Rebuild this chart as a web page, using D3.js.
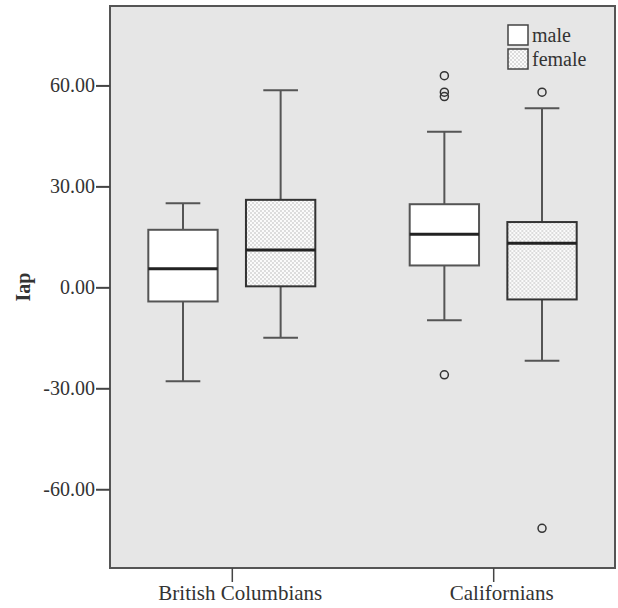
<!DOCTYPE html>
<html>
<head>
<meta charset="utf-8">
<script src="https://cdn.jsdelivr.net/npm/d3@7"></script>
<style>
	body { margin: 0; background: #fff; }
	text { font-family: "Liberation Serif", "Times New Roman", serif; fill: #333; }
</style>
</head>
<body>
<div class="graphic__vis"></div>
<script>
// groups on the x axis and the two series
var groups = ["British Columbians", "Californians"]
var sexes = ["male", "female"]

// box stats, one entry per group (order follows groups)
var maleLow    = [-27.9, -9.8]
var maleQ1     = [-4.2, 6.5]
var maleMedian = [5.5, 15.8]
var maleQ3     = [17.1, 24.7]
var maleHigh   = [25.0, 46.2]

var femaleLow    = [-15.0, -21.8]
var femaleQ1     = [0.3, -3.6]
var femaleMedian = [11.1, 13.1]
var femaleQ3     = [26.0, 19.4]
var femaleHigh   = [58.6, 53.2]

// outliers: [group, sex, value]
var outliers = [
	["Californians", "male", 62.9],
	["Californians", "male", 58.0],
	["Californians", "male", 56.7],
	["Californians", "male", -26.0],
	["Californians", "female", 58.0],
	["Californians", "female", -71.6]
]

var yTicks = [-60, -30, 0, 30, 60]

var width = 618
var height = 608

var svg = d3.select('.graphic__vis').append('svg')
	.attr('width', width)
	.attr('height', height)

var defs = svg.append('defs')
var pat = defs.append('pattern')
	.attr('id', 'dots')
	.attr('patternUnits', 'userSpaceOnUse')
	.attr('width', 4)
	.attr('height', 4)
pat.append('rect').attr('width', 4).attr('height', 4).attr('fill', '#fbfbfb')
pat.append('rect').attr('x', 0.5).attr('y', 0.5).attr('width', 1).attr('height', 1).attr('fill', '#808080')
pat.append('rect').attr('x', 2.5).attr('y', 2.5).attr('width', 1).attr('height', 1).attr('fill', '#808080')

var plot = { left: 110, right: 615, top: 6, bottom: 568 }

var x = d3.scalePoint()
	.domain(groups)
	.range([plot.left, plot.right])
	.padding(0.466)

var xSub = d3.scaleBand()
	.domain(sexes)
	.range([-83.5, 83.5])
	.paddingInner(0.29)

var y = d3.scaleLinear()
	.domain([-83.4, 83.6])
	.range([plot.bottom, plot.top])

// plot background
svg.append('rect')
	.attr('x', plot.left)
	.attr('y', plot.top)
	.attr('width', plot.right - plot.left)
	.attr('height', plot.bottom - plot.top)
	.attr('fill', '#e6e6e6')
	.attr('stroke', '#555')
	.attr('stroke-width', 2)

// axes
var fmt = d3.format('.2f')
var yAxis = d3.axisLeft(y)
	.tickValues(yTicks)
	.tickFormat(function(d) { return fmt(d).replace('\u2212', '-') })
	.tickSize(14)
	.tickPadding(1)

var gy = svg.append('g')
	.attr('transform', 'translate(' + plot.left + ',0)')
	.call(yAxis)
gy.select('.domain').remove()
gy.selectAll('.tick line').attr('stroke', '#444').attr('stroke-width', 2)
gy.selectAll('.tick text').style('font-size', '20px').attr('fill', '#333')

var xAxis = d3.axisBottom(x)
	.tickSize(14)
	.tickPadding(1)

var gx = svg.append('g')
	.attr('transform', 'translate(0,' + plot.bottom + ')')
	.call(xAxis)
gx.select('.domain').remove()
gx.selectAll('.tick line').attr('stroke', '#444').attr('stroke-width', 1.5)
gx.selectAll('.tick text')
	.style('font-size', '21px')
	.attr('fill', '#333')
	.attr('dx', 8)
	.attr('y', 17)

svg.append('text')
	.attr('transform', 'translate(30,' + ((plot.top + plot.bottom) / 2) + ') rotate(-90)')
	.attr('text-anchor', 'middle')
	.style('font-size', '20px')
	.style('font-weight', 'bold')
	.text('Iap')

// build box rows from the arrays
var boxes = []
groups.forEach(function(g, i) {
	boxes.push({ group: g, sex: 'male', low: maleLow[i], q1: maleQ1[i], med: maleMedian[i], q3: maleQ3[i], high: maleHigh[i] })
	boxes.push({ group: g, sex: 'female', low: femaleLow[i], q1: femaleQ1[i], med: femaleMedian[i], q3: femaleQ3[i], high: femaleHigh[i] })
})

var bw = xSub.bandwidth()

var box = svg.append('g').selectAll('.box')
	.data(boxes)
	.enter().append('g')
	.attr('class', 'box')
	.attr('transform', function(d) { return 'translate(' + (x(d.group) + xSub(d.sex)) + ',0)' })

// whiskers
box.append('line')
	.attr('x1', bw / 2).attr('x2', bw / 2)
	.attr('y1', function(d) { return y(d.high) })
	.attr('y2', function(d) { return y(d.q3) })
	.attr('stroke', '#555').attr('stroke-width', 2)
box.append('line')
	.attr('x1', bw / 2).attr('x2', bw / 2)
	.attr('y1', function(d) { return y(d.q1) })
	.attr('y2', function(d) { return y(d.low) })
	.attr('stroke', '#555').attr('stroke-width', 2)
box.selectAll('.cap')
	.data(function(d) { return [d.low, d.high] })
	.enter().append('line')
	.attr('class', 'cap')
	.attr('x1', bw / 4).attr('x2', bw * 3 / 4)
	.attr('y1', function(v) { return y(v) })
	.attr('y2', function(v) { return y(v) })
	.attr('stroke', '#555').attr('stroke-width', 2)

box.append('rect')
	.attr('x', 0)
	.attr('width', bw)
	.attr('y', function(d) { return y(d.q3) })
	.attr('height', function(d) { return y(d.q1) - y(d.q3) })
	.attr('fill', function(d) { return d.sex == 'male' ? '#fff' : 'url(#dots)' })
	.attr('stroke', function(d) { return d.sex == 'male' ? '#555' : '#333' })
	.attr('stroke-width', 2)

box.append('line')
	.attr('x1', 0).attr('x2', bw)
	.attr('y1', function(d) { return y(d.med) })
	.attr('y2', function(d) { return y(d.med) })
	.attr('stroke', '#222').attr('stroke-width', 3)

// outliers
svg.append('g').selectAll('circle')
	.data(outliers)
	.enter().append('circle')
	.attr('cx', function(d) { return x(d[0]) + xSub(d[1]) + bw / 2 })
	.attr('cy', function(d) { return y(d[2]) })
	.attr('r', 4)
	.attr('fill', 'none')
	.attr('stroke', '#333')
	.attr('stroke-width', 1.5)

// legend
var legend = svg.append('g')
	.attr('transform', 'translate(508,25)')
var item = legend.selectAll('.legendItem')
	.data(sexes)
	.enter().append('g')
	.attr('class', 'legendItem')
	.attr('transform', function(d, i) { return 'translate(0,' + (i * 24) + ')' })
item.append('rect')
	.attr('width', 20)
	.attr('height', 20)
	.attr('fill', function(d) { return d == 'male' ? '#fff' : 'url(#dots)' })
	.attr('stroke', '#444')
	.attr('stroke-width', 1.5)
item.append('text')
	.attr('x', 24)
	.attr('y', 17)
	.style('font-size', '20px')
	.text(function(d) { return d })
</script>
</body>
</html>
